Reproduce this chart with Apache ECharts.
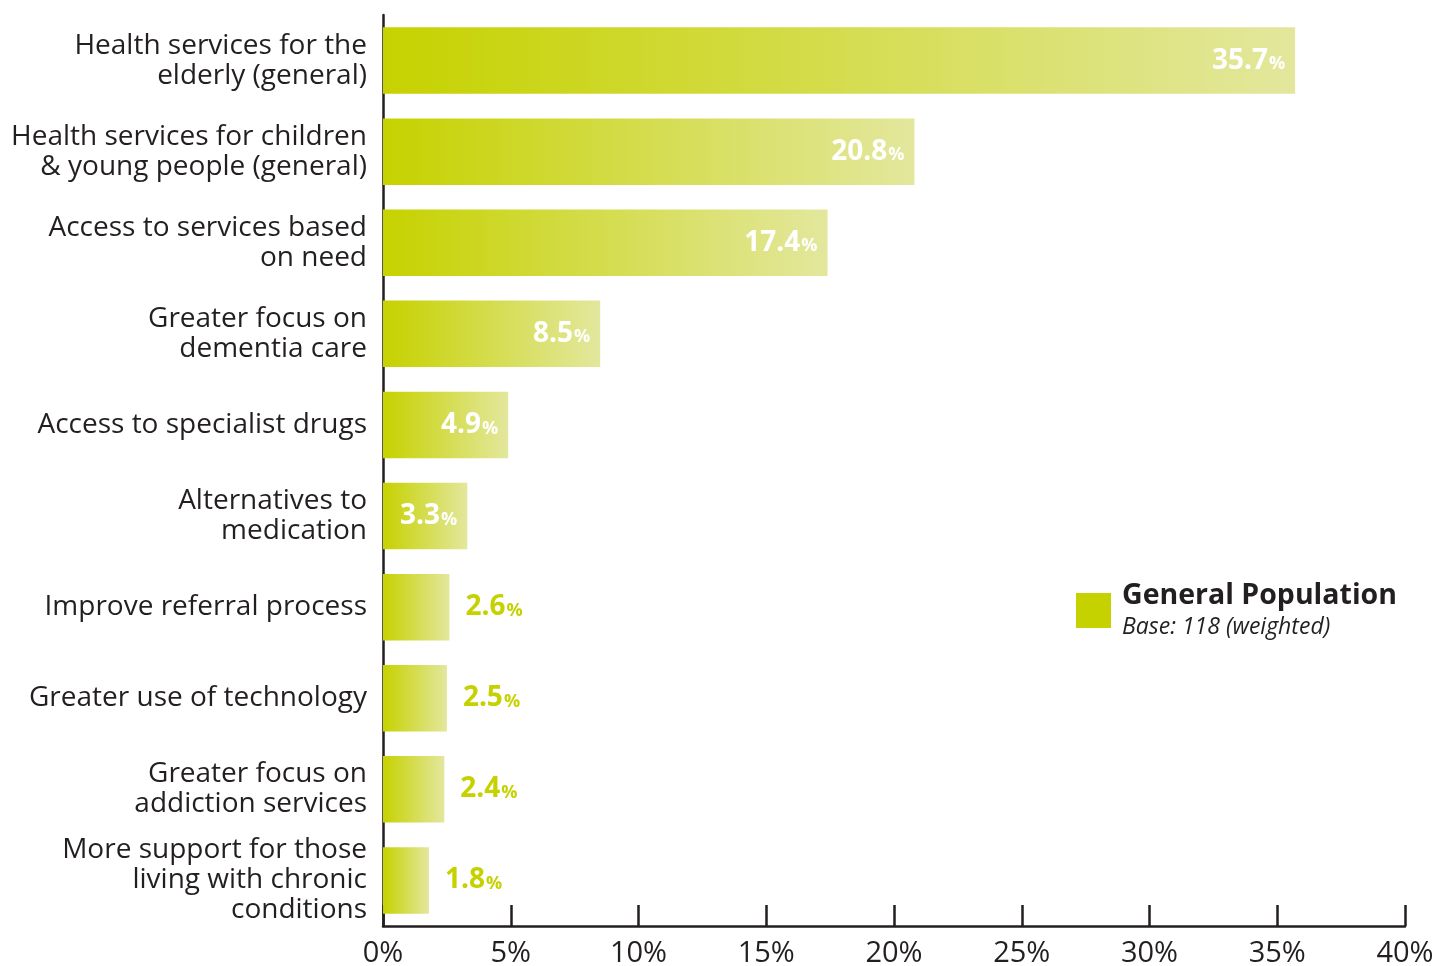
<!DOCTYPE html>
<html>
<head>
<meta charset="utf-8">
<script src="https://cdn.jsdelivr.net/npm/echarts@6/dist/echarts.min.js"></script>
<style>
  html, body { margin: 0; padding: 0; background: #fff; }
  #chart { width: 1436px; height: 966px; }
</style>
</head>
<body>
<div id="chart"></div>
<script>
// Priorities for health service improvement (share of respondents)
const categories = [
  'Health services for the\nelderly (general)',
  'Health services for children\n& young people (general)',
  'Access to services based\non need',
  'Greater focus on\ndementia care',
  'Access to specialist drugs',
  'Alternatives to\nmedication',
  'Improve referral process',
  'Greater use of technology',
  'Greater focus on\naddiction services',
  'More support for those\nliving with chronic\nconditions'
];
const values = [35.7, 20.8, 17.4, 8.5, 4.9, 3.3, 2.6, 2.5, 2.4, 1.8];
const xTicks = [0, 5, 10, 15, 20, 25, 30, 35, 40];
const seriesName = 'General Population';
const baseNote = 'Base: 118 (weighted)';

const FONT = '"Open Sans", "Noto Sans", sans-serif';
const GREEN = '#c6d200';
const PALE = '#e3e79d';
const INK = '#231f20';

const chart = echarts.init(document.getElementById('chart'));

const barFill = new echarts.graphic.LinearGradient(0, 0, 1, 0, [
  { offset: 0, color: GREEN },
  { offset: 1, color: PALE }
]);

const data = values.map(v => {
  const inside = v >= 3;
  return {
    value: v,
    label: {
      position: inside ? 'insideRight' : 'right',
      distance: inside ? 10 : 16,
      rich: {
        v: { fontFamily: FONT, fontWeight: 'bold', fontSize: 28, color: inside ? '#fff' : GREEN },
        p: { fontFamily: FONT, fontWeight: 'bold', fontSize: 18, color: inside ? '#fff' : GREEN, padding: [7, 0, 0, 1] }
      }
    }
  };
});

chart.setOption({
  animation: false,
  grid: { left: 383, right: 31, top: 15, bottom: 40, containLabel: false, outerBoundsMode: 'none' },
  legend: {
    data: [seriesName],
    left: 1071,
    top: 576,
    icon: 'rect',
    itemWidth: 35,
    itemHeight: 35,
    selectedMode: false,
    itemStyle: { color: GREEN },
    formatter: name => '{a|' + name + '}\n{b|' + baseNote + '}',
    textStyle: {
      rich: {
        a: { fontFamily: FONT, fontWeight: 'bold', fontSize: 28.5, color: INK, lineHeight: 34, padding: [0, 0, 0, 6] },
        b: { fontFamily: FONT, fontStyle: 'italic', fontSize: 23, color: INK, lineHeight: 30, padding: [0, 0, 0, 6] }
      }
    }
  },
  xAxis: {
    type: 'value',
    min: xTicks[0],
    max: xTicks[xTicks.length - 1],
    interval: xTicks[1] - xTicks[0],
    splitLine: { show: false },
    axisLine: { show: true, lineStyle: { color: INK, width: 2.5 } },
    axisTick: { show: true, inside: true, length: 21, lineStyle: { color: INK, width: 2.5 } },
    axisLabel: {
      margin: 13,
      fontFamily: FONT,
      fontSize: 29,
      color: INK,
      formatter: v => v + '%'
    }
  },
  yAxis: {
    type: 'category',
    inverse: true,
    data: categories,
    axisLine: { show: true, lineStyle: { color: INK, width: 2.5 } },
    axisTick: { show: false },
    axisLabel: {
      margin: 16,
      fontFamily: FONT,
      fontSize: 28,
      lineHeight: 30,
      color: INK,
      align: 'right'
    }
  },
  series: [{
    name: seriesName,
    type: 'bar',
    data: data,
    barCategoryGap: '27%',
    itemStyle: { color: barFill },
    label: {
      show: true,
      formatter: p => '{v|' + p.value + '}{p|%}'
    }
  }],
  color: [GREEN]
});
</script>
</body>
</html>
